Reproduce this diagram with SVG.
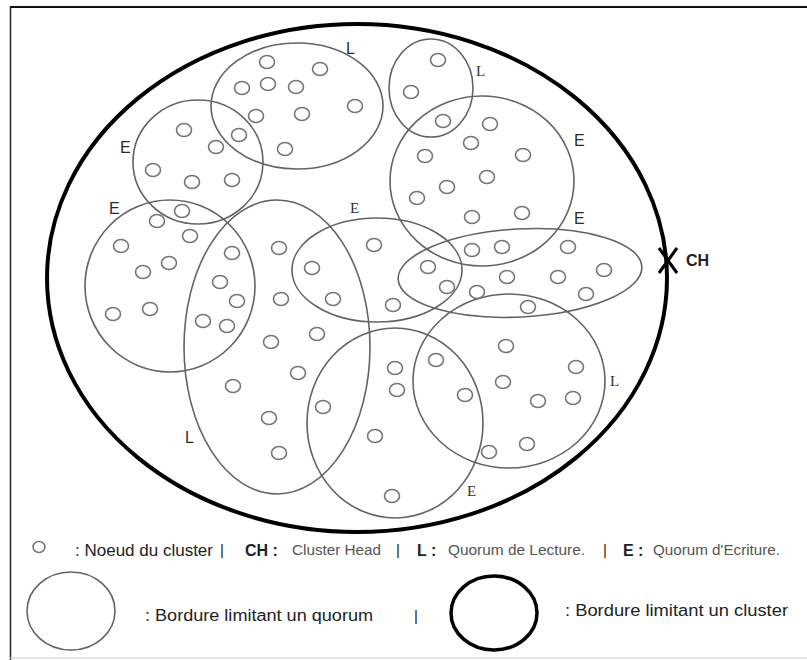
<svg xmlns="http://www.w3.org/2000/svg" width="807" height="660" viewBox="0 0 807 660">
<style>
.q{fill:none;stroke:#636363;stroke-width:1.6}
.n{fill:none;stroke:#767676;stroke-width:1.6}
.ls{font-family:"Liberation Sans",Arial,sans-serif;font-size:16px;fill:#2a2a2a}
.lr{font-family:"Liberation Serif","Times New Roman",serif;font-size:15px;fill:#333}
.t{font-family:"Liberation Sans",Arial,sans-serif;fill:#222}
.b{font-weight:bold}
.s{fill:#555}
</style>
<defs>
<ellipse id="nd" cx="0" cy="0" rx="7.5" ry="6.5" class="n"/>
</defs>
<rect x="0" y="0" width="807" height="660" fill="#fff"/>
<line x1="10" y1="7" x2="807" y2="7" stroke="#111" stroke-width="2"/>
<line x1="10.5" y1="6" x2="10.5" y2="660" stroke="#222" stroke-width="1.5"/>
<line x1="10" y1="658" x2="807" y2="658" stroke="#ccc" stroke-width="1"/>

<g id="cluster">
<ellipse cx="357" cy="278" rx="310" ry="254" fill="none" stroke="#000" stroke-width="4"/>
</g>

<g id="ch">
<line x1="659" y1="248" x2="677" y2="273" stroke="#000" stroke-width="3"/>
<line x1="677" y1="248" x2="659" y2="273" stroke="#000" stroke-width="3"/>
<text x="686" y="266" class="t b" font-size="16">CH</text>
</g>

<g id="q-top-L">
<ellipse cx="297" cy="106" rx="86" ry="63" class="q"/>
<text x="346" y="54" class="ls">L</text>
<use href="#nd" x="267" y="62"/><use href="#nd" x="320" y="69"/><use href="#nd" x="242" y="88"/><use href="#nd" x="268" y="84"/><use href="#nd" x="296" y="87"/><use href="#nd" x="355" y="106"/><use href="#nd" x="256" y="116"/><use href="#nd" x="302" y="114"/><use href="#nd" x="239" y="135"/><use href="#nd" x="285" y="149"/>
</g>

<g id="q-left-E">
<ellipse cx="198" cy="162" rx="65" ry="62" class="q"/>
<text x="120" y="153" class="ls">E</text>
<use href="#nd" x="184" y="130"/><use href="#nd" x="216" y="147"/><use href="#nd" x="153" y="170"/><use href="#nd" x="192" y="182"/><use href="#nd" x="232" y="180"/><use href="#nd" x="182" y="211"/>
</g>

<g id="q-farleft-E">
<ellipse cx="170" cy="286" rx="85" ry="86" class="q"/>
<text x="109" y="214" class="ls">E</text>
<use href="#nd" x="157" y="221"/><use href="#nd" x="190" y="236"/><use href="#nd" x="121" y="246"/><use href="#nd" x="169" y="263"/><use href="#nd" x="143" y="272"/><use href="#nd" x="113" y="314"/><use href="#nd" x="150" y="309"/>
</g>

<g id="q-tall-L">
<ellipse cx="277" cy="347" rx="93" ry="147" class="q"/>
<text x="185" y="443" class="ls">L</text>
<use href="#nd" x="279" y="248"/><use href="#nd" x="232" y="253"/><use href="#nd" x="220" y="282"/><use href="#nd" x="237" y="301"/><use href="#nd" x="203" y="321"/><use href="#nd" x="227" y="326"/><use href="#nd" x="281" y="299"/><use href="#nd" x="271" y="342"/><use href="#nd" x="317" y="334"/><use href="#nd" x="298" y="373"/><use href="#nd" x="233" y="386"/><use href="#nd" x="269" y="418"/><use href="#nd" x="279" y="453"/>
</g>

<g id="q-mid-E">
<ellipse cx="377" cy="270" rx="85" ry="52" class="q"/>
<text x="350" y="213" class="lr">E</text>
<use href="#nd" x="374" y="245"/><use href="#nd" x="312" y="268"/><use href="#nd" x="333" y="299"/><use href="#nd" x="393" y="305"/>
</g>

<g id="q-bottom-E">
<ellipse cx="395" cy="423" rx="88" ry="95" class="q"/>
<text x="467" y="496" class="lr">E</text>
<use href="#nd" x="395" y="368"/><use href="#nd" x="397" y="390"/><use href="#nd" x="323" y="407"/><use href="#nd" x="375" y="436"/><use href="#nd" x="392" y="496"/>
</g>

<g id="q-right-L">
<ellipse cx="509" cy="381" rx="96" ry="87" class="q"/>
<text x="610" y="386" class="lr">L</text>
<use href="#nd" x="506" y="346"/><use href="#nd" x="436" y="360"/><use href="#nd" x="576" y="367"/><use href="#nd" x="503" y="382"/><use href="#nd" x="465" y="395"/><use href="#nd" x="538" y="401"/><use href="#nd" x="573" y="398"/><use href="#nd" x="527" y="444"/><use href="#nd" x="489" y="452"/>
</g>

<g id="q-horiz">
<ellipse cx="520" cy="273" rx="122" ry="44" transform="rotate(-3 520 273)" class="q"/>
<use href="#nd" x="428" y="267"/><use href="#nd" x="447" y="287"/><use href="#nd" x="477" y="292"/><use href="#nd" x="507" y="277"/><use href="#nd" x="558" y="277"/><use href="#nd" x="604" y="270"/><use href="#nd" x="586" y="294"/><use href="#nd" x="528" y="307"/>
</g>

<g id="q-small-L">
<ellipse cx="431" cy="88" rx="42" ry="49" class="q"/>
<text x="476" y="76" class="lr">L</text>
<use href="#nd" x="438" y="60"/><use href="#nd" x="411" y="92"/><use href="#nd" x="443" y="121"/>
</g>

<g id="q-right-E">
<ellipse cx="482" cy="181" rx="92" ry="85" class="q"/>
<text x="574" y="146" class="ls">E</text>
<text x="574" y="224" class="ls">E</text>
<use href="#nd" x="490" y="124"/><use href="#nd" x="471" y="143"/><use href="#nd" x="425" y="156"/><use href="#nd" x="523" y="155"/><use href="#nd" x="487" y="177"/><use href="#nd" x="447" y="187"/><use href="#nd" x="417" y="198"/><use href="#nd" x="472" y="217"/><use href="#nd" x="522" y="213"/><use href="#nd" x="472" y="250"/><use href="#nd" x="502" y="247"/><use href="#nd" x="568" y="247"/>
</g>

<g id="connectors"></g>

<g id="legend">
<ellipse cx="39" cy="547" rx="6" ry="5.5" class="n"/>
<text x="75" y="556" class="t" font-size="16" textLength="138" lengthAdjust="spacingAndGlyphs">: Noeud du cluster</text>
<text x="220" y="555" class="t" font-size="15">|</text>
<text x="245" y="556" class="t b" font-size="16">CH :</text>
<text x="292" y="555" class="t s" font-size="14" textLength="89" lengthAdjust="spacingAndGlyphs">Cluster Head</text>
<text x="396" y="555" class="t" font-size="15">|</text>
<text x="417" y="556" class="t b" font-size="16">L :</text>
<text x="448" y="555" class="t s" font-size="14" textLength="137" lengthAdjust="spacingAndGlyphs">Quorum de Lecture.</text>
<text x="603" y="555" class="t" font-size="15">|</text>
<text x="623" y="556" class="t b" font-size="16">E :</text>
<text x="653" y="555" class="t s" font-size="14" textLength="127" lengthAdjust="spacingAndGlyphs">Quorum d'Ecriture.</text>

<ellipse cx="71" cy="611" rx="44" ry="39" class="q"/>
<text x="145" y="621" class="t" font-size="16" textLength="228" lengthAdjust="spacingAndGlyphs">: Bordure limitant un quorum</text>
<text x="414" y="621" class="t" font-size="15">|</text>
<ellipse cx="494" cy="613" rx="43" ry="37" fill="none" stroke="#000" stroke-width="3.5"/>
<text x="565" y="616" class="t" font-size="16" textLength="223" lengthAdjust="spacingAndGlyphs">: Bordure limitant un cluster</text>
</g>
</svg>
